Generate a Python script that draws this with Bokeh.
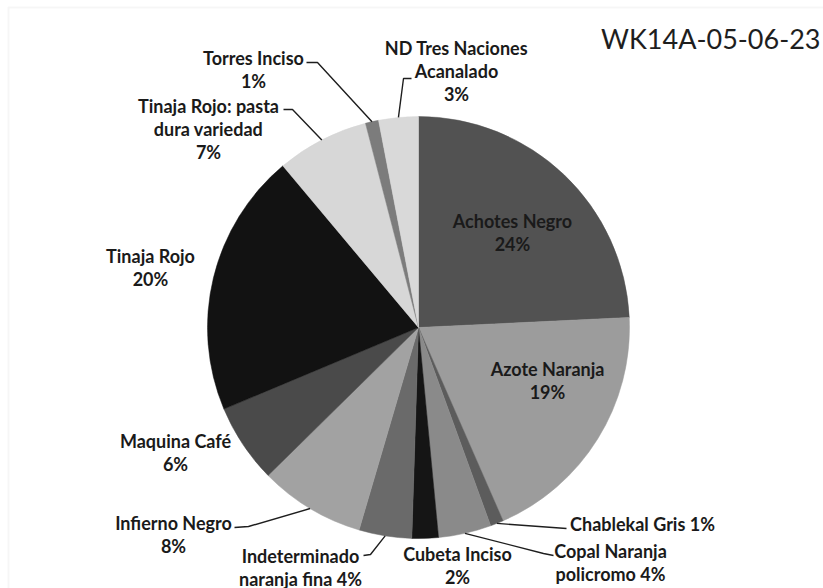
import math
from bokeh.plotting import figure
from bokeh.models import Range1d, ColumnDataSource, BoxAnnotation
from bokeh.core.properties import value
from bokeh.embed import file_html
from bokeh.resources import INLINE

# ---------------- data ----------------
categories = ["Achotes Negro", "Azote Naranja", "Chablekal Gris",
              "Copal Naranja policromo", "Cubeta Inciso",
              "Indeterminado naranja fina", "Infierno Negro", "Maquina Café",
              "Tinaja Rojo", "Tinaja Rojo: pasta dura variedad",
              "Torres Inciso", "ND Tres Naciones Acanalado"]
values = [24, 19, 1, 4, 2, 4, 8, 6, 20, 7, 1, 3]
label_lines = [["Achotes Negro", "{p}"], ["Azote Naranja", "{p}"],
               ["Chablekal Gris {p}"], ["Copal Naranja", "policromo {p}"],
               ["Cubeta Inciso", "{p}"], ["Indeterminado", "naranja fina {p}"],
               ["Infierno Negro", "{p}"], ["Maquina Café", "{p}"],
               ["Tinaja Rojo", "{p}"], ["Tinaja Rojo: pasta", "dura variedad", "{p}"],
               ["Torres Inciso", "{p}"], ["ND Tres Naciones", "Acanalado", "{p}"]]
chart_title = "WK14A-05-06-23"

# ---------------- styles / layout ----------------
colors = ["#525252", "#9c9c9c", "#5c5c5c", "#8a8a8a", "#151515", "#6a6a6a",
          "#a2a2a2", "#4a4a4a", "#121212", "#d7d7d7", "#7c7c7c", "#d9d9d9"]
# label anchor (image px coords, centre of first line)
label_pos = [(512, 220), (547, 368), (642, 523), (610, 550), (457, 553),
             (300, 555), (173, 522), (175, 440), (150, 255), (208, 105),
             (253, 57), (456, 47)]
# leader polyline tail points (image px), None = no leader
leaders = [None, None, [(566, 528)], [(543, 553), (553, 555)], None,
           [(370, 554), (363, 555)], [(248, 526), (234, 527)], None, None,
           [(292, 109), (283, 109)], [(317, 62), (306, 62)],
           [(403, 78), (411, 78)]]
LINE_H = 23
W, H = 823, 588
CX, CY, R = 418, 327, 211


def fx(ix):
    return ix


def fy(iy):
    return H - iy


p = figure(width=W, height=H, output_backend="svg", toolbar_location=None,
           x_range=Range1d(0, W), y_range=Range1d(0, H),
           x_axis_location=None, y_axis_location=None, min_border=0)
p.grid.visible = False
p.outline_line_color = None
p.background_fill_color = "white"
p.border_fill_color = "white"

# light frame of the original chart area
p.add_layout(BoxAnnotation(left=fx(8), right=fx(W + 20), top=fy(7), bottom=fy(H + 20),
                           fill_alpha=0, line_color="#e2e2e2", line_width=2))

total = float(sum(values))
starts, ends, mids = [], [], []
cum = 0.0
for v in values:
    s = math.pi / 2 - 2 * math.pi * cum / total
    e = math.pi / 2 - 2 * math.pi * (cum + v) / total
    starts.append(s)
    ends.append(e)
    mids.append((s + e) / 2)
    cum += v

src = ColumnDataSource(dict(x=[fx(CX)] * len(values), y=[fy(CY)] * len(values),
                            start=starts, end=ends, color=colors))
p.wedge(x="x", y="y", radius=R, start_angle="start", end_angle="end",
        direction="clock", fill_color="color", line_color="color",
        line_width=0.5, source=src)

# leader lines
xs, ys = [], []
for i, tail in enumerate(leaders):
    if tail is None:
        continue
    px = [fx(CX) + R * math.cos(mids[i])]
    py = [fy(CY) + R * math.sin(mids[i])]
    for (ix, iy) in tail:
        px.append(fx(ix))
        py.append(fy(iy))
    xs.append(px)
    ys.append(py)
p.multi_line(xs=xs, ys=ys, line_color="#1e1e1e", line_width=1.4)

# labels
tx, ty, tt = [], [], []
for i, lines in enumerate(label_lines):
    pct = "%d%%" % round(values[i] / total * 100)
    lx, ly = label_pos[i]
    for k, ln in enumerate(lines):
        tx.append(fx(lx))
        ty.append(fy(ly + k * LINE_H))
        tt.append(ln.replace("{p}", pct))
p.text(x=tx, y=ty, text=tt, text_font=value("Lato"), text_font_style="bold",
       text_font_size="18px", text_color="#1a1a1a", text_align="center",
       text_baseline="middle")

p.text(x=[fx(820)], y=[fy(38)], text=[chart_title], text_font=value("Lato"),
       text_font_size="27px", text_color="#1e1e1e", text_align="right",
       text_baseline="middle")

open("out.html", "w").write(file_html(p, INLINE))
